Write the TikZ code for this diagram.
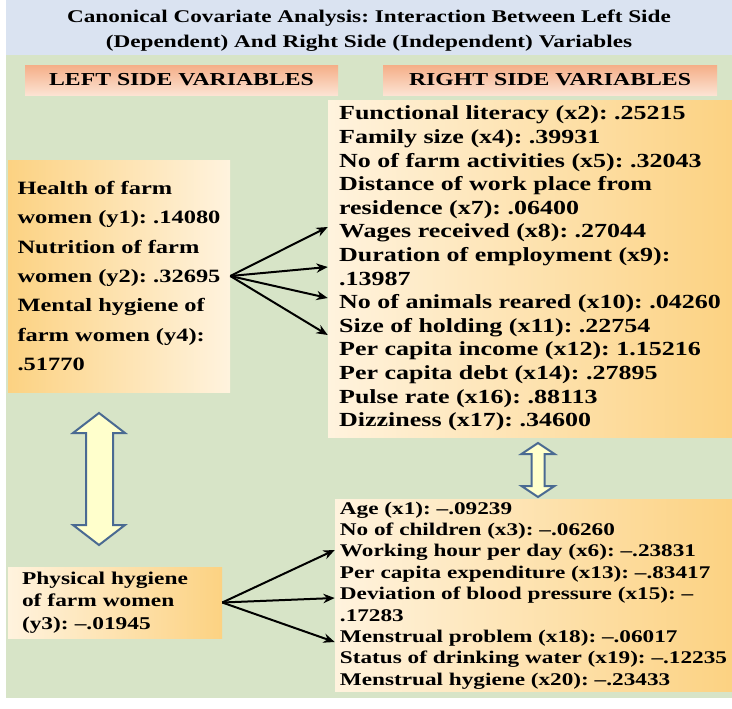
\documentclass[tikz,border=0pt]{standalone}
\usepackage{fontspec}
\newfontfamily\timesbold{Liberation Serif}[FakeStretch=1.3]
\frenchspacing
\usetikzlibrary{arrows.meta, calc}
\definecolor{ccabg}{HTML}{D7E4C7}
\definecolor{ccatitle}{HTML}{DAE3F1}
\definecolor{ccasalmon}{HTML}{F5AE87}
\definecolor{ccapeach}{HTML}{FCE3D3}
\definecolor{ccaorange}{HTML}{FCD282}
\definecolor{ccacream}{HTML}{FFF3DE}
\definecolor{ccaline}{HTML}{4A6A92}
\definecolor{ccayellow}{HTML}{FFFF8C}
\definecolor{ccapale}{HTML}{FFFFCC}

\tikzset{
  headbox/.style={top color=ccasalmon, bottom color=ccapeach, minimum height=22.5pt, inner sep=0pt,
    font=\timesbold\bfseries\fontsize{13.7}{16}\selectfont},
  varbox/.style={align=left, inner sep=0pt},
  link/.style={-{Stealth[length=8.5pt, width=7pt]}, line width=1.5pt, black},
  bothway/.style={draw=ccaline, line width=1.5pt, line join=miter, left color=ccapale, middle color=ccayellow, right color=ccapale}
}

\begin{document}
\begin{tikzpicture}[x=0.75pt, y=-0.75pt]
    \useasboundingbox (0,0) rectangle (732,708);
    % background and title band
    \fill[ccabg] (6,55) rectangle (732,698);
    \fill[ccatitle] (6,0) rectangle (732,55);
    \node[font=\timesbold\bfseries\fontsize{13.4}{18.75}\selectfont, align=center] (title) at (369,30.5) {Canonical Covariate Analysis: Interaction Between Left Side\\(Dependent) And Right Side (Independent) Variables};

    % headers
    \node[headbox, minimum width=234.75pt] (lhead) at (181.5,80) {LEFT SIDE VARIABLES};
    \node[headbox, minimum width=250.5pt] (rhead) at (550,80) {RIGHT SIDE VARIABLES};

    % left side
    \node[varbox, left color=ccaorange, right color=ccacream, minimum width=166.5pt, minimum height=174pt, font=\timesbold\bfseries\fontsize{14.1}{22.1}\selectfont] (ltop) at (119,276) {Health of farm\\women (y1): .14080\\Nutrition of farm\\women (y2): .32695\\Mental hygiene of\\farm women (y4):\\.51770};
    \node[varbox, left color=ccacream, right color=ccaorange, inner xsep=10.5pt, text width=139.5pt, minimum height=53.25pt, font=\timesbold\bfseries\fontsize{13.5}{16.9}\selectfont] (lbot) at (115,602.5) {Physical hygiene\\of farm women\\(y3): –.01945};

    % right side
    \node[varbox, left color=ccacream, right color=ccaorange, minimum width=303pt, minimum height=252.75pt, font=\timesbold\bfseries\fontsize{15}{17.7}\selectfont] (rtop) at (530,268.5) {Functional literacy (x2): .25215\\Family size (x4): .39931\\No of farm activities (x5): .32043\\Distance of work place from\\residence (x7): .06400\\Wages received (x8): .27044\\Duration of employment (x9):\\.13987\\No of animals reared (x10): .04260\\Size of holding (x11): .22754\\Per capita income (x12): 1.15216\\Per capita debt (x14): .27895\\Pulse rate (x16): .88113\\Dizziness (x17): .34600};
    \node[varbox, left color=ccacream, right color=ccaorange, minimum width=297.75pt, minimum height=144pt, font=\timesbold\bfseries\fontsize{13.4}{16.05}\selectfont] (rbot) at (533.5,595.5) {Age (x1): –.09239\\No of children (x3): –.06260\\Working hour per day (x6): –.23831\\Per capita expenditure (x13): –.83417\\Deviation of blood pressure (x15): –\\.17283\\Menstrual problem (x18): –.06017\\Status of drinking water (x19): –.12235\\Menstrual hygiene (x20): –.23433};

    % connectors
    \draw[link] (ltop.east) -- ($(rtop.west)+(0,-41.5)$);
    \draw[link] (ltop.east) -- ($(rtop.west)+(0,-1.5)$);
    \draw[link] (ltop.east) -- ($(rtop.west)+(0,29.5)$);
    \draw[link] (ltop.east) -- ($(rtop.west)+(0,66.5)$);
    \draw[link] (lbot.east) -- ($(rbot.west)+(0,-45.5)$);
    \draw[link] (lbot.east) -- ($(rbot.west)+(0,2.5)$);
    \draw[link] (lbot.east) -- ($(rbot.west)+(0,46.5)$);

    % double arrows
    \draw[bothway] (99,413) -- (125,433) -- (113,433) -- (113,525) -- (125,525) -- (99,545) -- (73,525) -- (86,525) -- (86,433) -- (73,433) -- cycle;
    \draw[bothway] (538,443) -- (554.5,454) -- (544.5,454) -- (544.5,486) -- (554.5,486) -- (538,497) -- (521.5,486) -- (531.5,486) -- (531.5,454) -- (521.5,454) -- cycle;
\end{tikzpicture}
\end{document}
